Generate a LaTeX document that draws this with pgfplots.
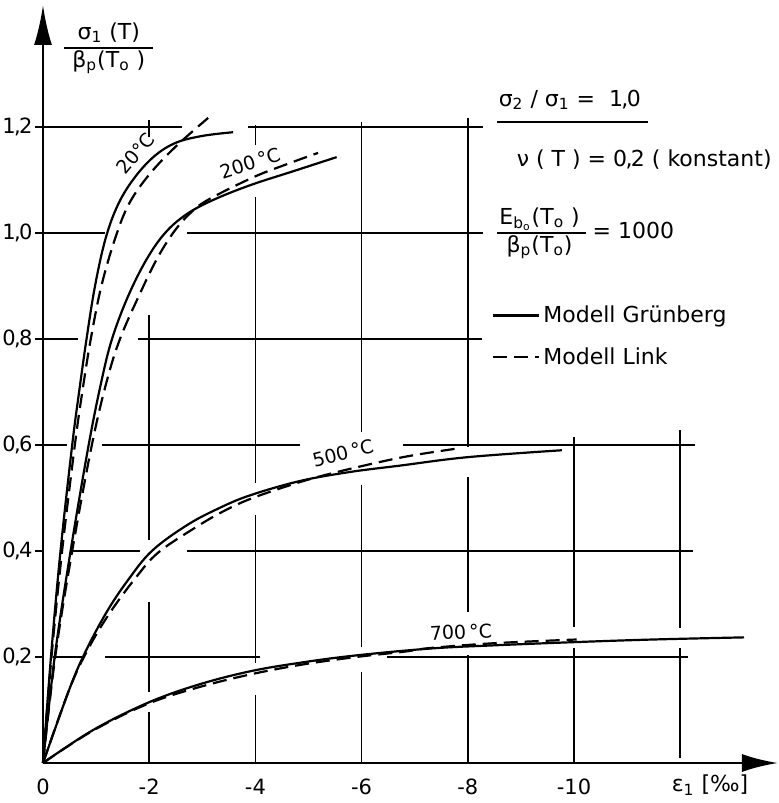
\documentclass[border=0pt]{standalone}
\usepackage{fontspec}
\setmainfont{DejaVu Sans}
\usepackage{pgfplots}
\pgfplotsset{compat=1.18}
\usetikzlibrary{arrows.meta}

\setlength{\arrayrulewidth}{0.9pt}
% decimal comma set a little tighter
\newcommand\dec[2]{#1\kern-0.8pt,\kern-0.8pt#2}

% sigma_1/beta_p versus eps_1 (per mille), biaxial compression
\pgfplotstableread{
x y
0 0
-0.15 0.20
-0.33 0.40
-0.55 0.60
-0.68 0.70
-0.82 0.80
-0.98 0.90
-1.18 0.99
-1.42 1.055
-1.73 1.105
-2.10 1.145
-2.50 1.170
-3.00 1.183
-3.58 1.190
}\gruenA
\pgfplotstableread{
x y
0 0
-0.16 0.20
-0.36 0.40
-0.60 0.60
-0.74 0.70
-0.90 0.80
-1.10 0.90
-1.36 0.99
-1.62 1.055
-2.00 1.110
-2.50 1.163
-3.11 1.217
}\linkA
\pgfplotstableread{
x y
0 0
-0.22 0.20
-0.52 0.40
-0.86 0.60
-1.10 0.72
-1.30 0.80
-1.60 0.88
-1.95 0.95
-2.30 1.00
-2.70 1.035
-3.20 1.062
-3.90 1.090
-4.70 1.116
-5.53 1.143
}\gruenB
\pgfplotstableread{
x y
0 0
-0.23 0.20
-0.55 0.40
-0.92 0.60
-1.20 0.72
-1.45 0.80
-1.80 0.88
-2.14 0.95
-2.45 1.00
-2.75 1.035
-3.10 1.062
-3.96 1.105
-4.60 1.130
-5.18 1.151
}\linkB
\pgfplotstableread{
x y
0 0
-0.50 0.140
-0.80 0.210
-1.20 0.285
-1.60 0.345
-2.05 0.400
-2.70 0.448
-3.30 0.480
-3.90 0.505
-4.84 0.532
-5.78 0.549
-6.72 0.561
-8.00 0.577
-9.77 0.590
}\gruenC
\pgfplotstableread{
x y
0 0
-0.50 0.140
-0.85 0.215
-1.25 0.282
-1.75 0.350
-2.17 0.397
-2.85 0.443
-3.40 0.475
-3.95 0.500
-4.84 0.530
-5.50 0.548
-6.35 0.568
-7.00 0.581
-7.85 0.594
}\linkC
\pgfplotstableread{
x y
0 0
-0.94 0.062
-1.96 0.113
-2.90 0.147
-3.90 0.173
-4.90 0.190
-5.90 0.203
-7.30 0.216
-8.50 0.222
-10.00 0.228
-11.50 0.233
-13.20 0.237
}\gruenD
\pgfplotstableread{
x y
0 0
-0.94 0.061
-1.96 0.111
-2.90 0.142
-3.90 0.167
-4.90 0.186
-5.90 0.200
-6.80 0.210
-7.30 0.217
-8.50 0.226
-10.05 0.233
}\linkD

\begin{document}
\begin{tikzpicture}[font=\fontsize{11}{13.2}\selectfont,
  gridseg/.style={line width=0.8pt},
  gruen/.style={line width=1.1pt, smooth, tension=0.6},
  link/.style={line width=1.1pt, smooth, tension=0.6, dash pattern=on 7pt off 3.5pt},
  templabel/.style={font=\fontsize{9.5}{11}\selectfont, inner sep=1pt}]
\begin{axis}[
  scale only axis, width=367.5pt, height=379pt,
  xmin=-13.84, xmax=0, ymin=0, ymax=1.43,
  x dir=reverse,
  axis lines=left,
  axis line style={line width=1.3pt},
  x axis line style={{Latex[length=18pt,width=9pt]}-},
  y axis line style={-{Latex[length=20pt,width=9pt]}},
  xtick={0,-2,-4,-6,-8,-10}, xticklabels={0,-2,-4,-6,-8,-10},
  ytick={0.2,0.4,0.6,0.8,1.0,1.2},
  yticklabels={\dec02,\dec04,\dec06,\dec08,\dec10,\dec12},
  tick label style={font=\fontsize{10.5}{12}\selectfont},
  x tick style={draw=none},
  y tick style={line width=1pt, black},
  tick align=outside, major tick length=4pt,
  yticklabel style={inner sep=1pt},
  xticklabel style={inner sep=1pt, yshift=-3pt},
  clip=false,
  legend cell align=left,
  legend style={draw=none, fill=none, inner sep=0pt, row sep=8pt,
    at={(axis cs:-8.45,0.805)}, anchor=west,
    nodes={inner sep=1.5pt}},
  legend image code/.code={\draw[#1] (0pt,0pt) -- (23pt,0pt);},
]

% hand-drawn grid, interrupted around curves and labels
\draw[gridseg] (axis cs:0,1.2) -- (axis cs:-2.62,1.2);
\draw[gridseg] (axis cs:-3.86,1.2) -- (axis cs:-8.29,1.2);
\draw[gridseg] (axis cs:0,1.0) -- (axis cs:-1.17,1.0);
\draw[gridseg] (axis cs:-2.71,1.0) -- (axis cs:-8.29,1.0);
\draw[gridseg] (axis cs:0,0.8) -- (axis cs:-0.66,0.8);
\draw[gridseg] (axis cs:-1.79,0.8) -- (axis cs:-8.27,0.8);
\draw[gridseg] (axis cs:0,0.6) -- (axis cs:-0.45,0.6);
\draw[gridseg] (axis cs:-1.11,0.6) -- (axis cs:-4.84,0.6);
\draw[gridseg] (axis cs:-6.78,0.6) -- (axis cs:-12.28,0.6);
\draw[gridseg] (axis cs:-0.55,0.4) -- (axis cs:-1.83,0.4);
\draw[gridseg] (axis cs:-2.71,0.4) -- (axis cs:-12.24,0.4);
\draw[gridseg] (axis cs:-0.19,0.2) -- (axis cs:-0.73,0.2);
\draw[gridseg] (axis cs:-1.17,0.2) -- (axis cs:-4.09,0.2);
\draw[gridseg] (axis cs:-6.48,0.2) -- (axis cs:-12.15,0.2);

\draw[gridseg] (axis cs:-2,1.213) -- (axis cs:-2,1.181);
\draw[gridseg] (axis cs:-2,0.845) -- (axis cs:-2,0.421);
\draw[gridseg] (axis cs:-2,0.304) -- (axis cs:-2,0.134);
\draw[gridseg] (axis cs:-2,0.096) -- (axis cs:-2,0);
\draw[gridseg] (axis cs:-4,1.204) -- (axis cs:-4,1.166);
\draw[gridseg] (axis cs:-4,1.068) -- (axis cs:-4,0.528);
\draw[gridseg] (axis cs:-4,0.468) -- (axis cs:-4,0.189);
\draw[gridseg] (axis cs:-4,0.128) -- (axis cs:-4,0);
\draw[gridseg] (axis cs:-6,1.209) -- (axis cs:-6,0.625);
\draw[gridseg] (axis cs:-6,0.525) -- (axis cs:-6,0.219);
\draw[gridseg] (axis cs:-6,0.172) -- (axis cs:-6,0);
\draw[gridseg] (axis cs:-8,1.217) -- (axis cs:-8,0.596);
\draw[gridseg] (axis cs:-8,0.540) -- (axis cs:-8,0.285);
\draw[gridseg] (axis cs:-8,0.204) -- (axis cs:-8,0);
\draw[gridseg] (axis cs:-10,0.615) -- (axis cs:-10,0.257);
\draw[gridseg] (axis cs:-10,0.217) -- (axis cs:-10,0);
\draw[gridseg] (axis cs:-12,0.628) -- (axis cs:-12,0.255);
\draw[gridseg] (axis cs:-12,0.217) -- (axis cs:-12,0.009);

% curves: solid = Gruenberg, dashed = Link
\addplot[gruen] table {\gruenA};
\addlegendentry{Modell Grünberg}
\addplot[link] table {\linkA};
\addlegendentry{Modell Link}
\addplot[gruen, forget plot] table {\gruenB};
\addplot[link, forget plot] table {\linkB};
\addplot[gruen, forget plot] table {\gruenC};
\addplot[link, forget plot] table {\linkC};
\addplot[gruen, forget plot] table {\gruenD};
\addplot[link, forget plot] table {\linkD};

% curve labels
\node[templabel, rotate=50] at (axis cs:-1.74,1.150) {20°C};
\node[templabel, rotate=18] at (axis cs:-3.90,1.132) {200\,°C};
\node[templabel, rotate=14] at (axis cs:-5.65,0.585) {500\,°C};
\node[templabel, rotate=3]  at (axis cs:-7.87,0.247) {700\,°C};

% axis titles
\node at (axis cs:-1.24,1.349)
  {\begin{tabular}{@{\hspace{4pt}}c@{\hspace{4pt}}}σ\textsubscript{1} (T)\\\hline β\textsubscript{p}(T\textsubscript{o} )\end{tabular}};
\node at (axis cs:-12.56,-0.0415) {ε\textsubscript{1} [‰]};

% parameters
\node at (axis cs:-9.92,1.251) {σ\textsubscript{2} / σ\textsubscript{1} =\ \ \dec10};
\draw[line width=0.9pt] (axis cs:-8.55,1.209) -- (axis cs:-11.39,1.209);
\node[anchor=west] at (axis cs:-8.79,1.138) {ν ( T ) = \dec02 ( konstant)};
\node[anchor=west, inner sep=0pt] at (axis cs:-8.55,1.0)
  {\begin{tabular}{@{\hspace{1pt}}c@{\hspace{3pt}}}E\textsubscript{b\textsubscript{o}}(T\textsubscript{o} )\\\hline β\textsubscript{p}(T\textsubscript{o})\end{tabular} = 1000};
\end{axis}
\pgfresetboundingbox
\path[use as bounding box] (-21.5pt,-20pt) rectangle (367.5pt,381.5pt);
\end{tikzpicture}
\end{document}
